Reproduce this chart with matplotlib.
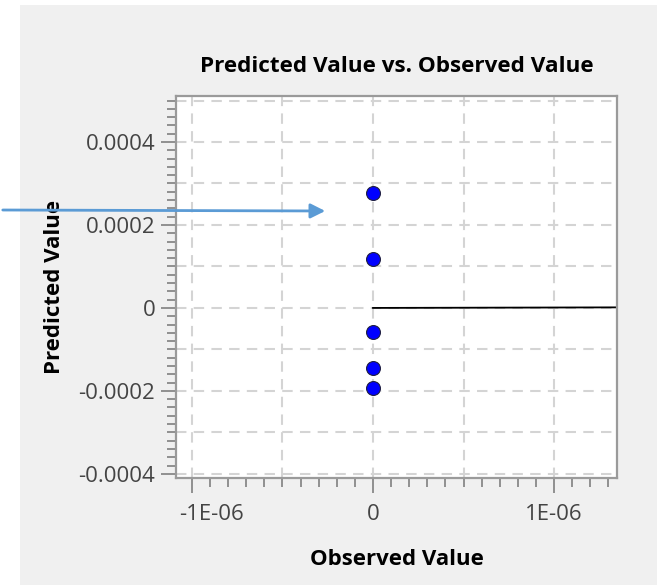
import matplotlib
matplotlib.use('Agg')
import matplotlib.pyplot as plt
from matplotlib.patches import Rectangle, FancyArrowPatch
from matplotlib.ticker import MultipleLocator
from matplotlib.transforms import ScaledTranslation

# observed / predicted values
observed = [0.0, 0.0, 0.0, 0.0, 0.0]
predicted = [0.000277, 0.000118, -0.000058, -0.000145, -0.000193]

# reference line y = x
ref_x = [0.0, 1.35e-06]
ref_y = [0.0, 1.35e-06]

x_ticks = [-1e-06, 0.0, 1e-06]
x_tick_labels = ['-1E-06', '0', '1E-06']
y_ticks = [-0.0004, -0.0002, 0.0, 0.0002, 0.0004]
y_tick_labels = ['-0.0004', '-0.0002', '0', '0.0002', '0.0004']

plt.rcParams['font.family'] = ['Open Sans', 'DejaVu Sans']

fig = plt.figure(figsize=(6.66, 5.87), dpi=100)
fig.patch.set_facecolor('white')

# gray panel behind the chart
fig.add_artist(Rectangle((0.030, 0.0034), 0.9565, 0.988,
                         transform=fig.transFigure, facecolor='#f0f0f0',
                         edgecolor='none', zorder=-5))

ax = fig.add_axes([0.2643, 0.1857, 0.6622, 0.6508])
ax.set_facecolor('white')

ax.set_xlim(-1.088e-06, 1.348e-06)
ax.set_ylim(-0.00041, 0.000511)

# grid
for gx in [-1e-06, -5e-07, 0.0, 5e-07, 1e-06]:
    ax.axvline(gx, color='#d4d4d4', lw=1.5, ls=(0, (5, 3.5)), zorder=1)
for gy in [-0.0004, -0.0003, -0.0002, -0.0001, 0.0, 0.0001, 0.0002, 0.0003, 0.0004, 0.0005]:
    ax.axhline(gy, color='#d4d4d4', lw=1.5, ls=(0, (5, 3.5)), zorder=1)

ax.plot(ref_x, ref_y, color='black', lw=1.3, zorder=2)
ax.plot(observed, predicted, 'o', color='#0000ff', markersize=10,
        markeredgecolor='#202040', markeredgewidth=0.8, zorder=3)

ax.set_xticks(x_ticks)
ax.set_xticklabels(x_tick_labels)
ax.set_yticks(y_ticks)
ax.set_yticklabels(y_tick_labels)
ax.xaxis.set_minor_locator(MultipleLocator(1e-07))
ax.yaxis.set_minor_locator(MultipleLocator(0.00002))

ax.tick_params(which='major', length=11, width=1.2, color='#808080',
               labelsize=16, labelcolor='#444444')
ax.tick_params(axis='y', which='major', pad=4)
ax.tick_params(axis='x', which='major', pad=8)
ax.tick_params(which='minor', length=6.5, width=1.2, color='#808080')

# the first x label sits a bit right of its tick in the original
first = ax.get_xticklabels()[0]
first.set_transform(first.get_transform() + ScaledTranslation(20 / 100, 0, fig.dpi_scale_trans))

for sp in ax.spines.values():
    sp.set_color('#9a9a9a')
    sp.set_linewidth(1.6)

ax.set_title('Predicted Value vs. Observed Value', fontsize=16.2,
             fontweight='bold', pad=17)
ax.set_xlabel('Observed Value', fontsize=16, fontweight='bold')
ax.set_ylabel('Predicted Value', fontsize=16, fontweight='bold')
ax.xaxis.set_label_coords(0.5, -0.186)
ax.yaxis.set_label_coords(-0.252, 0.5)

# arrow pointing at the top point
fig.add_artist(FancyArrowPatch(
    (0.0, 1 - 210 / 587), (328 / 666, 1 - 211 / 587),
    transform=fig.transFigure, arrowstyle='-|>', mutation_scale=22,
    color='#5b9bd5', lw=2, zorder=10))

fig.savefig('out.png', dpi=100)
